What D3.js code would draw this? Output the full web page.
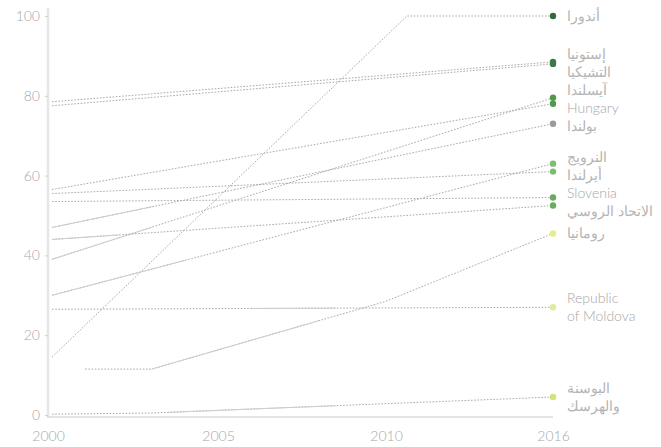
<!DOCTYPE html>
<html>
<head>
<meta charset="utf-8">
<script src="https://cdn.jsdelivr.net/npm/d3@7"></script>
<style>
  html, body { margin: 0; padding: 0; background: #fff; }
  svg { display: block; }
  text { font-family: Lato, "Open Sans", "DejaVu Sans", sans-serif; }
</style>
</head>
<body>
<svg id="chart" width="661" height="447"></svg>
<script>
// ---------- DATA ----------
const countryNames = [
  "أندورا", "إستونيا", "التشيكيا", "آيسلندا", "Hungary", "بولندا",
  "النرويج", "أيرلندا", "Slovenia", "الاتحاد الروسي", "رومانيا",
  "Republic\nof Moldova", "البوسنة\nوالهرسك"
];
const seriesYears = [
  [2000, 2010.75, 2016],        // Andorra
  [2000, 2016],                 // Estonia
  [2000, 2016],                 // Czechia
  [2000, 2016],                 // Iceland
  [2000, 2016],                 // Hungary
  [2000, 2016],                 // Poland
  [2000, 2016],                 // Norway
  [2000, 2016],                 // Ireland
  [2000, 2016],                 // Slovenia
  [2000, 2016],                 // Russian Federation
  [2001, 2003, 2010, 2016],     // Romania
  [2000, 2016],                 // Republic of Moldova
  [2000, 2003, 2016]            // Bosnia and Herzegovina
];
const seriesValues = [
  [14.5, 100, 100],
  [78.5, 88.5],
  [77.5, 88],
  [39, 79.5],
  [56.5, 78],
  [47, 73],
  [30, 63],
  [55.5, 61],
  [53.5, 54.5],
  [44, 52.5],
  [11.5, 11.5, 28.5, 45.5],
  [26.5, 27],
  [0.2, 0.5, 4.5]
];
const xTickValues = [2000, 2005, 2010, 2016];
const yTickValues = [0, 20, 40, 60, 80, 100];

// ---------- STYLE ----------
const dotColors = [
  "#2f6b3b", "#3b7a44", "#3b7a44", "#4f9a4c", "#4f9a4c", "#9a9a9a",
  "#7cbd6f", "#7cbd6f", "#66ad5f", "#66ad5f", "#e9ec8c", "#e3ea9f", "#d4e27a"
];
// year spans drawn as solid line instead of dotted
const solidSpans = [
  [], [], [], [[2000, 2003]], [], [[2000, 2003]],
  [[2000, 2004]], [], [], [[2000, 2002]], [[2003, 2008]],
  [[2006, 2008.5]], [[2003.5, 2008.5]]
];

const svg = d3.select("#chart");
const FONT = "Lato, 'Open Sans', 'DejaVu Sans', sans-serif";

const x = d3.scaleLinear()
  .domain(xTickValues)
  .range([52, 218, 386, 553]);
const y = d3.scaleLinear().domain([0, 100]).range([415, 16]);

// y axis line
const axisX = x.range()[0] - 4;
svg.append("line")
  .attr("x1", axisX).attr("x2", axisX)
  .attr("y1", y(100) - 8).attr("y2", y(0) + 2)
  .attr("stroke", "#e6e6e6").attr("stroke-width", 2.5);

// y axis ticks
const yAxis = d3.axisLeft(y).tickValues(yTickValues).tickSize(3).tickPadding(5);
const gy = svg.append("g").attr("transform", `translate(${axisX},0)`).call(yAxis);
gy.select(".domain").remove();
gy.selectAll(".tick line").attr("stroke", "#d0d0d0");
gy.selectAll(".tick text").attr("fill", "#a8a8a8").attr("font-size", 14)
  .style("font-family", FONT).style("font-weight", 300);

// x axis
svg.append("line")
  .attr("x1", axisX - 1).attr("x2", x(2016))
  .attr("y1", y(0) + 2).attr("y2", y(0) + 2)
  .attr("stroke", "#c8c8c8").attr("stroke-width", 1);
const xAxis = d3.axisBottom(x).tickValues(xTickValues).tickFormat(d3.format("d")).tickSize(0).tickPadding(14);
const gx = svg.append("g").attr("transform", `translate(0,${y(0) + 2})`).call(xAxis);
gx.select(".domain").remove();
gx.selectAll(".tick text").attr("fill", "#a8a8a8").attr("font-size", 14)
  .style("font-family", FONT).style("font-weight", 300);
gx.selectAll(".tick").filter(d => d === 2000).select("text").attr("x", -4);

// lines
const line = d3.line().x(d => x(d[0])).y(d => y(d[1]));
const series = countryNames.map((name, i) => ({
  name, color: dotColors[i], spans: solidSpans[i],
  pts: seriesYears[i].map((yr, j) => [yr, seriesValues[i][j]])
}));

const defs = svg.append("defs");
const linesG = svg.append("g");
series.forEach((s, i) => {
  linesG.append("path")
    .attr("d", line(s.pts))
    .attr("fill", "none")
    .attr("stroke", "#a9a9a9")
    .attr("stroke-width", 1)
    .attr("stroke-dasharray", "1.6,1.6");
  s.spans.forEach((sp, k) => {
    const id = `clip-${i}-${k}`;
    defs.append("clipPath").attr("id", id).append("rect")
      .attr("x", x(sp[0])).attr("width", x(sp[1]) - x(sp[0]))
      .attr("y", 0).attr("height", 447);
    linesG.append("path")
      .attr("d", line(s.pts))
      .attr("fill", "none")
      .attr("stroke", "#cdcdcd")
      .attr("stroke-width", 1)
      .attr("clip-path", `url(#${id})`);
  });
});

// dots
svg.append("g").selectAll("circle").data(series).join("circle")
  .attr("cx", d => x(d.pts[d.pts.length - 1][0]))
  .attr("cy", d => y(d.pts[d.pts.length - 1][1]))
  .attr("r", 3.2)
  .attr("fill", d => d.color);

// labels with simple collision resolution
const lineH = 18;
let blocks = series.map(d => {
  const lines = d.name.split("\n");
  return { items: [{ d, lines }], center: y(d.pts[d.pts.length - 1][1]), h: lines.length * lineH };
}).sort((a, b) => a.center - b.center);
let merged = true;
while (merged) {
  merged = false;
  for (let i = 0; i < blocks.length - 1; i++) {
    const a = blocks[i], b = blocks[i + 1];
    if (a.center + a.h / 2 > b.center - b.h / 2) {
      const items = a.items.concat(b.items);
      const h = a.h + b.h;
      const c = (a.center * a.h + b.center * b.h) / h;
      blocks.splice(i, 2, { items, h, center: c });
      merged = true;
      break;
    }
  }
}
const isArabic = s => /[\u0600-\u06FF]/.test(s);
const labelG = svg.append("g");
blocks.forEach(b => {
  let cur = b.center - b.h / 2;
  b.items.forEach(it => {
    const t = labelG.append("text")
      .attr("fill", isArabic(it.d.name) ? "#b4b4b4" : "#a6a6a6")
      .attr("font-size", 14)
      .style("font-family", FONT)
      .style("font-weight", 300);
    it.lines.forEach((ln, k) => {
      t.append("tspan").attr("x", x(2016) + 14)
        .attr("y", cur + lineH * k + lineH / 2)
        .attr("dy", "0.35em").text(ln);
    });
    cur += it.lines.length * lineH;
  });
});
</script>
</body>
</html>
